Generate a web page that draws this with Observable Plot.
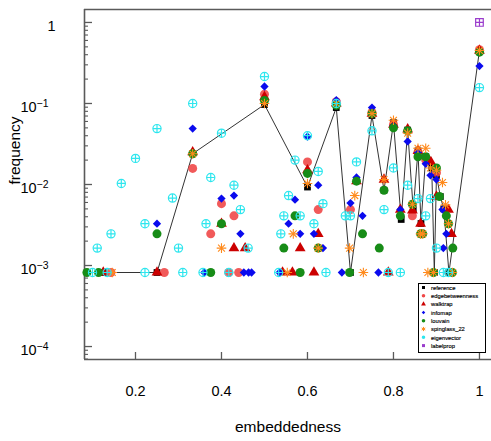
<!DOCTYPE html>
<html>
<head>
<meta charset="utf-8">
<script src="https://cdn.jsdelivr.net/npm/d3@7"></script>
<script src="https://cdn.jsdelivr.net/npm/@observablehq/plot@0.6"></script>
<style>
  html, body { margin: 0; padding: 0; background: #fff; }
  #wrap { position: relative; width: 491px; height: 441px; overflow: hidden; font-family: "Liberation Sans", Arial, sans-serif; }
  #legend { position: absolute; left: 418px; top: 283px; }
</style>
</head>
<body>
<div id="wrap"></div>
<script>
// ---- data: [embeddedness, frequency] ----
const reference = [[0.125,0.00082],[0.25,0.00082],[0.333,0.024],[0.5,0.097],[0.6,0.0093],[0.667,0.089],[0.7,0.00082],[0.75,0.071],[0.778,0.0085],[0.8,0.058],[0.818,0.0037],[0.833,0.047],[0.846,0.0049],[0.857,0.026],[0.864,0.0033],[0.875,0.022],[0.889,0.016],[0.895,0.00082],[0.9,0.013],[0.909,0.0071],[0.917,0.005],[0.929,0.00082],[1.0,0.45]];
const edgebetweenness = [[0.143,0.00082],[0.267,0.00082],[0.333,0.0158],[0.375,0.00246],[0.4,0.0058],[0.417,0.00082],[0.429,0.0041],[0.44,0.00082],[0.5,0.13],[0.6,0.019],[0.625,0.0049],[0.667,0.105],[0.7,0.0049],[0.75,0.078],[0.8,0.055],[0.844,0.0041],[0.857,0.025],[0.875,0.02],[0.9,0.014],[1.0,0.46]];
const walktrap = [[0.125,0.00082],[0.25,0.00082],[0.333,0.025],[0.4,0.00328],[0.429,0.00164],[0.455,0.00164],[0.5,0.12],[0.542,0.00082],[0.565,0.00082],[0.583,0.00164],[0.6,0.015],[0.615,0.00082],[0.625,0.00246],[0.667,0.1],[0.714,0.011],[0.75,0.075],[0.778,0.0115],[0.788,0.00082],[0.8,0.055],[0.816,0.0049],[0.833,0.048],[0.844,0.0048],[0.857,0.026],[0.863,0.00328],[0.887,0.019],[0.9,0.0071],[0.928,0.0049],[0.935,0.00246],[1.0,0.45]];
const infomap = [[0.25,0.00328],[0.333,0.049],[0.36,0.00082],[0.4,0.0067],[0.429,0.0073],[0.444,0.00246],[0.452,0.00082],[0.463,0.00082],[0.47,0.00082],[0.5,0.162],[0.535,0.00082],[0.556,0.00328],[0.571,0.0065],[0.583,0.00246],[0.6,0.039],[0.615,0.00246],[0.625,0.0098],[0.636,0.00164],[0.667,0.11],[0.68,0.00082],[0.7,0.0059],[0.714,0.0122],[0.728,0.0041],[0.75,0.089],[0.765,0.00082],[0.8,0.053],[0.816,0.0049],[0.833,0.034],[0.857,0.025],[0.875,0.018],[0.886,0.013],[0.9,0.0115],[0.914,0.0049],[0.916,0.00164],[0.923,0.00246],[1.0,0.29]];
const louvain = [[0.087,0.00082],[0.114,0.00082],[0.25,0.00246],[0.333,0.024],[0.375,0.00082],[0.4,0.00328],[0.5,0.109],[0.545,0.00164],[0.571,0.0041],[0.583,0.00082],[0.6,0.0137],[0.625,0.00164],[0.667,0.095],[0.698,0.00082],[0.714,0.011],[0.728,0.00246],[0.75,0.075],[0.767,0.00164],[0.778,0.0085],[0.8,0.05],[0.816,0.0041],[0.833,0.046],[0.844,0.0057],[0.857,0.022],[0.863,0.00246],[0.868,0.00246],[0.875,0.022],[0.893,0.00082],[0.9,0.016],[0.907,0.0071],[0.923,0.0041],[0.928,0.00328],[0.938,0.00164],[0.937,0.00082],[1.0,0.43]];
const spinglass_22 = [[0.146,0.00082],[0.333,0.024],[0.4,0.00164],[0.5,0.1],[0.553,0.00082],[0.567,0.00246],[0.6,0.0103],[0.625,0.00164],[0.667,0.1],[0.698,0.00164],[0.71,0.0073],[0.73,0.00082],[0.75,0.075],[0.778,0.0115],[0.8,0.062],[0.833,0.043],[0.844,0.0057],[0.857,0.028],[0.863,0.00246],[0.868,0.00246],[0.875,0.028],[0.88,0.00082],[0.886,0.016],[0.893,0.00082],[0.9,0.015],[0.914,0.0106],[0.921,0.0056],[0.928,0.00328],[0.937,0.00082],[1.0,0.45]];
const eigenvector = [[0.1,0.00082],[0.111,0.00164],[0.134,0.00082],[0.143,0.00246],[0.167,0.0103],[0.2,0.021],[0.222,0.00328],[0.222,0.00082],[0.25,0.049],[0.286,0.0068],[0.3,0.00164],[0.31,0.00082],[0.333,0.1],[0.357,0.00082],[0.364,0.00328],[0.375,0.0122],[0.4,0.043],[0.417,0.00082],[0.429,0.0098],[0.444,0.0049],[0.462,0.00164],[0.5,0.215],[0.533,0.00082],[0.538,0.00246],[0.545,0.0041],[0.556,0.0073],[0.571,0.02],[0.583,0.0041],[0.6,0.04],[0.615,0.00328],[0.625,0.0145],[0.636,0.0058],[0.643,0.00082],[0.667,0.1],[0.688,0.0041],[0.7,0.0041],[0.714,0.019],[0.75,0.046],[0.778,0.0049],[0.788,0.00082],[0.8,0.016],[0.816,0.00082],[0.833,0.0098],[0.857,0.0067],[0.875,0.0041],[0.886,0.0067],[0.9,0.00164],[0.916,0.00082],[0.928,0.00082],[1.0,0.157]];
const labelprop = [[1.0,1.0]];

const seriesNames = ["reference","edgebetweenness","walktrap","infomap","louvain","spinglass_22","eigenvector","labelprop"];
const xTickValues = [0.2, 0.4, 0.6, 0.8, 1];
const yTickValues = [1, 0.1, 0.01, 0.001, 0.0001];
const xTitle = "embeddedness";
const yTitle = "frequency";

// ---- styles ----
const C = {
  reference: "#000000",
  edgebetweenness: "#f04848",
  walktrap: "#cc0000",
  infomap: "#0a0aee",
  louvain: "#178c17",
  spinglass_22: "#ff8a1c",
  eigenvector: "#2ee6ee",
  labelprop: "#9a3ccc"
};
const axisColor = "#5a5a5a";
const xDomain = [0.0814, 1.028];
const yDomain = [Math.pow(10, -4.16), Math.pow(10, 0.16)];
const W = 491, H = 441, ML = 84, MR = 0, MT = 9, MB = 82;
const PW = W - ML - MR, PH = H - MT - MB;

const minorTicks = [];
for (let e = -5; e <= 0; e++) for (let m = 2; m <= 9; m++) {
  const v = m * Math.pow(10, e);
  if (v > yDomain[0] && v < yDomain[1]) minorTicks.push(v);
}

const X = d => d[0], Y = d => d[1];

const chart = Plot.plot({
  width: W, height: H,
  marginLeft: ML, marginRight: MR, marginTop: MT, marginBottom: MB,
  style: { fontFamily: "'Liberation Sans', Arial, sans-serif", fontSize: "14.5px", background: "#fff", overflow: "visible", color: "#000" },
  x: { domain: xDomain, axis: null },
  y: { type: "log", domain: yDomain, axis: null },
  marks: [
    // frame (top, left, bottom)
    Plot.ruleY([yDomain[1]], { stroke: axisColor, strokeWidth: 1.6 }),
    Plot.ruleY([yDomain[0]], { stroke: axisColor, strokeWidth: 1.6 }),
    Plot.ruleX([xDomain[0]], { stroke: axisColor, strokeWidth: 1.6 }),
    // inward ticks
    Plot.tickY(yTickValues, { y: d => d, insetRight: PW - 8, stroke: axisColor, strokeWidth: 1.3 }),
    Plot.tickY(minorTicks, { y: d => d, insetRight: PW - 4, stroke: axisColor, strokeWidth: 1.1 }),
    Plot.tickX(xTickValues, { x: d => d, insetTop: PH - 7, stroke: axisColor, strokeWidth: 1.3 }),
    // axes labels
    Plot.axisX({ ticks: xTickValues, tickSize: 0, tickPadding: 26, tickFormat: d => String(d), label: null, fontSize: 14.5 }),
    Plot.axisY({ ticks: yTickValues, tickSize: 0, tickPadding: 36, dy: 4, tickFormat: d => d === 1 ? "1" : "10^" + Math.round(Math.log10(d)), label: null, fontSize: 14.5 }),
    Plot.text([xTitle], { frameAnchor: "bottom", dy: 72, fontSize: 15.5, fill: "#000" }),
    Plot.text([yTitle], { frameAnchor: "left", dx: -69, rotate: -90, fontSize: 15.5, fill: "#000" }),
    // reference line + points
    Plot.line(reference, { x: X, y: Y, stroke: "#333", strokeWidth: 1 }),
    Plot.dot(reference, { x: X, y: Y, symbol: "square", r: 3.8, fill: C.reference, stroke: "none" }),
    Plot.dot(edgebetweenness, { x: X, y: Y, symbol: "circle", r: 4.5, fill: C.edgebetweenness, fillOpacity: 0.9, stroke: "none" }),
    Plot.dot(walktrap, { x: X, y: Y, symbol: "triangle", r: 4.0, fill: C.walktrap, stroke: "none" }),
    Plot.dot(infomap, { x: X, y: Y, symbol: "square", rotate: 45, r: 3.3, fill: C.infomap, stroke: "none" }),
    Plot.dot(louvain, { x: X, y: Y, symbol: "circle", r: 4.5, fill: C.louvain, stroke: "none" }),
    Plot.dot(spinglass_22, { x: X, y: Y, symbol: "plus", r: 3.2, fill: "none", stroke: C.spinglass_22, strokeWidth: 1.1 }),
    Plot.dot(spinglass_22, { x: X, y: Y, symbol: "times", r: 3.2, fill: "none", stroke: C.spinglass_22, strokeWidth: 1.1 }),
    Plot.dot(eigenvector, { x: X, y: Y, symbol: "circle", r: 4.1, fill: "none", stroke: C.eigenvector, strokeWidth: 1.2 }),
    Plot.dot(eigenvector, { x: X, y: Y, symbol: "plus", r: 2.7, fill: "none", stroke: C.eigenvector, strokeWidth: 1.2 }),
    Plot.dot(labelprop, { x: X, y: Y, symbol: "square", r: 4.3, fill: "none", stroke: C.labelprop, strokeWidth: 1.2 }),
    Plot.dot(labelprop, { x: X, y: Y, symbol: "plus", r: 2.6, fill: "none", stroke: C.labelprop, strokeWidth: 1.2 })
  ]
});

document.getElementById("wrap").appendChild(chart);

// superscript exponents on y tick labels
d3.select(chart).selectAll('g[aria-label="y-axis tick label"] text').each(function () {
  const t = d3.select(this);
  const s = this.textContent;
  if (s.indexOf("^") >= 0) {
    const exp = s.split("^")[1].replace("-", "\u2212");
    t.text("");
    t.append("tspan").text("10");
    t.append("tspan").attr("dy", "-0.5em").attr("font-size", "0.72em").text(exp);
  } else {
    t.attr("dx", 7);
  }
});

// legend box
const legend = d3.select("#wrap").append("svg")
  .attr("id", "legend").attr("width", 69).attr("height", 71);
legend.append("rect").attr("x", 0.5).attr("y", 0.5).attr("width", 67).attr("height", 69)
  .attr("fill", "#fff").attr("stroke", "#000").attr("stroke-width", 1);
const legendSym = {
  reference: { type: d3.symbolSquare, size: 9, fill: C.reference },
  edgebetweenness: { type: d3.symbolCircle, size: 10, fill: C.edgebetweenness },
  walktrap: { type: d3.symbolTriangle, size: 10, fill: C.walktrap },
  infomap: { type: d3.symbolDiamond2, size: 8, fill: C.infomap },
  louvain: { type: d3.symbolCircle, size: 10, fill: C.louvain },
  spinglass_22: { type: d3.symbolAsterisk, size: 12, stroke: C.spinglass_22 },
  eigenvector: { type: d3.symbolCircle, size: 10, fill: C.eigenvector },
  labelprop: { type: d3.symbolSquare, size: 9, fill: C.labelprop }
};
seriesNames.forEach((name, i) => {
  const cy = 4.5 + i * 8.3;
  const s = legendSym[name];
  legend.append("path")
    .attr("d", d3.symbol(s.type, s.size)())
    .attr("transform", `translate(5.5,${cy})`)
    .attr("fill", s.fill || "none")
    .attr("stroke", s.stroke || "none")
    .attr("stroke-width", 1);
  legend.append("text")
    .attr("x", 13).attr("y", cy + 2.2)
    .attr("font-family", "'Liberation Sans', Arial, sans-serif")
    .attr("font-size", 5.8)
    .attr("stroke", "#000").attr("stroke-width", 0.15)
    .attr("fill", "#000")
    .text(name);
});
</script>
</body>
</html>
